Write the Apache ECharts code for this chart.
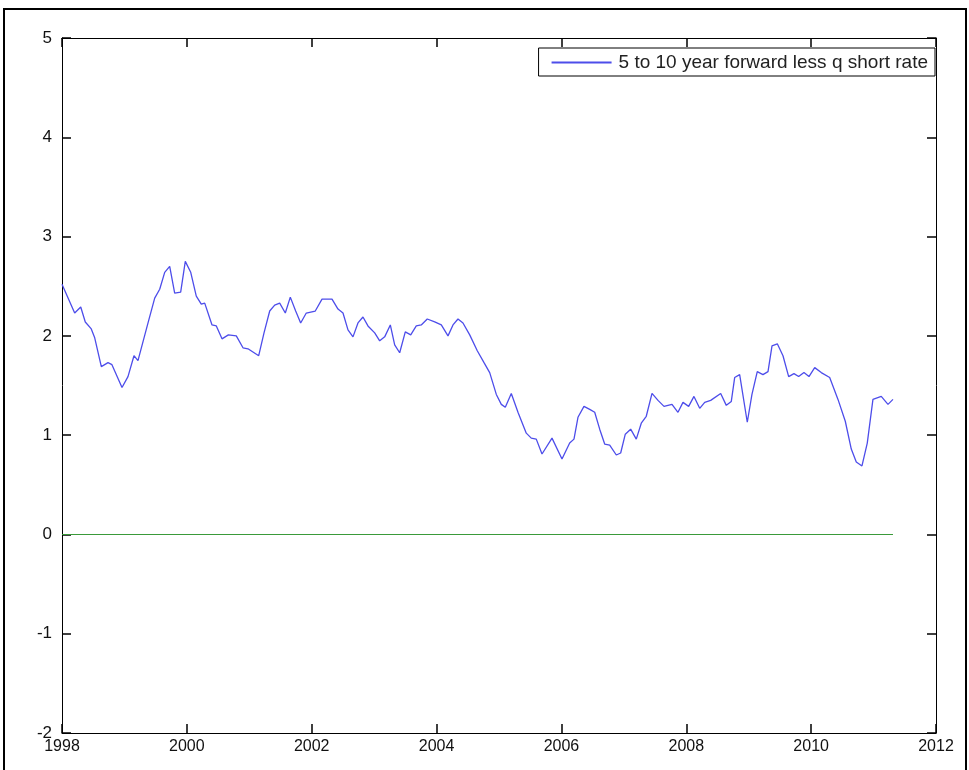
<!DOCTYPE html>
<html><head><meta charset="utf-8">
<script src="https://cdn.jsdelivr.net/npm/echarts@6/dist/echarts.min.js"></script>
<style>html,body{margin:0;padding:0;background:#fff}#c{width:969px;height:770px}</style>
</head><body><div id="c"></div>
<script>
// decimal-year dates of the readings
const dates = [1998.000,1998.203,1998.300,1998.373,1998.469,1998.524,1998.630,1998.737,1998.800,1998.961,
1999.057,1999.153,1999.217,1999.378,1999.485,1999.565,1999.645,1999.725,1999.805,1999.901,1999.975,
2000.062,2000.151,2000.231,2000.286,2000.403,2000.472,2000.563,2000.665,2000.792,2000.899,2000.979,
2001.151,2001.236,2001.327,2001.407,2001.487,2001.577,2001.657,2001.743,2001.823,2001.913,
2002.057,2002.165,2002.325,2002.421,2002.501,2002.581,2002.661,2002.741,2002.821,2002.901,
2003.009,2003.089,2003.169,2003.259,2003.329,2003.409,2003.499,2003.586,2003.675,2003.755,2003.851,2003.970,
2004.076,2004.183,2004.263,2004.343,2004.423,2004.531,2004.652,2004.760,2004.851,2004.957,
2005.037,2005.101,2005.197,2005.304,2005.437,2005.517,2005.597,2005.689,2005.849,
2006.009,2006.132,2006.201,2006.265,2006.361,2006.453,2006.533,2006.613,2006.693,2006.773,2006.879,2006.949,
2007.023,2007.109,2007.199,2007.279,2007.359,2007.451,2007.547,2007.643,2007.771,2007.867,2007.947,
2008.038,2008.123,2008.215,2008.295,2008.391,2008.551,2008.641,2008.721,2008.775,2008.855,2008.881,2008.977,
2009.052,2009.137,2009.228,2009.309,2009.373,2009.458,2009.549,2009.640,2009.725,2009.800,2009.885,2009.965,
2010.057,2010.162,2010.297,2010.430,2010.547,2010.643,2010.723,2010.814,2010.899,2010.990,
2011.123,2011.231,2011.311];
// 5 to 10 year forward less q short rate (%)
const spread = [2.52,2.23,2.29,2.14,2.07,1.98,1.69,1.73,1.71,1.48,
1.59,1.80,1.75,2.13,2.38,2.47,2.64,2.70,2.43,2.44,2.75,
2.64,2.40,2.32,2.33,2.11,2.10,1.97,2.01,2.00,1.88,1.87,
1.80,2.03,2.25,2.31,2.33,2.23,2.39,2.25,2.13,2.23,
2.25,2.37,2.37,2.27,2.23,2.06,1.99,2.13,2.19,2.10,
2.03,1.95,1.99,2.11,1.91,1.83,2.04,2.01,2.10,2.11,2.17,2.14,
2.11,2.00,2.11,2.17,2.13,2.01,1.85,1.73,1.63,1.41,
1.31,1.28,1.42,1.23,1.02,0.97,0.96,0.81,0.97,
0.76,0.92,0.96,1.18,1.29,1.26,1.23,1.06,0.91,0.90,0.80,0.82,
1.01,1.06,0.96,1.12,1.19,1.42,1.35,1.29,1.31,1.23,1.33,
1.29,1.39,1.27,1.33,1.35,1.42,1.30,1.34,1.58,1.61,1.63,1.13,
1.41,1.64,1.61,1.64,1.90,1.92,1.80,1.59,1.62,1.59,1.63,1.59,
1.68,1.63,1.58,1.36,1.14,0.86,0.73,0.69,0.92,1.36,
1.39,1.31,1.36];
const zeroDates = [1998, 2011.311];
const zeroValues = [0, 0];
const seriesName = '5 to 10 year forward less q short rate';

const chart = echarts.init(document.getElementById('c'), null, {renderer: 'canvas'});
const font = 'Liberation Sans, Arial, sans-serif';
function axisParts() {
  return {
    axisLine: {show: true, onZero: false, lineStyle: {color: '#000', width: 1}},
    axisTick: {show: true, inside: true, length: 9, lineStyle: {color: '#000', width: 1.5}},
    splitLine: {show: false}
  };
}
chart.setOption({
  animation: false,
  backgroundColor: '#fff',
  graphic: [{
    type: 'rect', shape: {x: 4, y: 9, width: 962, height: 770},
    style: {fill: 'none', stroke: '#000', lineWidth: 2}, z: 100, silent: true
  }],
  grid: {left: 62, top: 38, width: 874, height: 695, containLabel: false},
  legend: {
    data: [seriesName], right: 34, top: 48,
    backgroundColor: '#fff', borderColor: '#000', borderWidth: 1,
    padding: [5, 7, 4, 13], itemWidth: 60, itemHeight: 2, icon: 'rect', itemGap: 5,
    textStyle: {fontFamily: font, fontSize: 19, color: '#222', padding: [0, 0, 0, 2]}
  },
  xAxis: [
    Object.assign({type: 'value', min: 1998, max: 2012, interval: 2, position: 'bottom',
      axisLabel: {formatter: v => String(v), fontFamily: font, fontSize: 16, color: '#111', margin: 6}}, axisParts()),
    Object.assign({type: 'value', min: 1998, max: 2012, interval: 2, position: 'top',
      axisLabel: {show: false}}, axisParts())
  ],
  yAxis: [
    Object.assign({type: 'value', min: -2, max: 5, interval: 1, position: 'left',
      axisLabel: {fontFamily: font, fontSize: 17, color: '#111', margin: 10}}, axisParts()),
    Object.assign({type: 'value', min: -2, max: 5, interval: 1, position: 'right',
      axisLabel: {show: false}}, axisParts())
  ],
  series: [
    {name: seriesName, type: 'line', xAxisIndex: 0, yAxisIndex: 0,
      data: dates.map((d, i) => [d, spread[i]]), showSymbol: false, symbol: 'none',
      lineStyle: {color: '#4d4dea', width: 1.3}, itemStyle: {color: '#4d4dea'}},
    {name: 'zero', type: 'line', xAxisIndex: 0, yAxisIndex: 0,
      data: zeroDates.map((d, i) => [d, zeroValues[i]]), showSymbol: false, symbol: 'none',
      lineStyle: {color: '#3a9a3a', width: 1.1}, itemStyle: {color: '#3a9a3a'}}
  ]
});
</script></body></html>
